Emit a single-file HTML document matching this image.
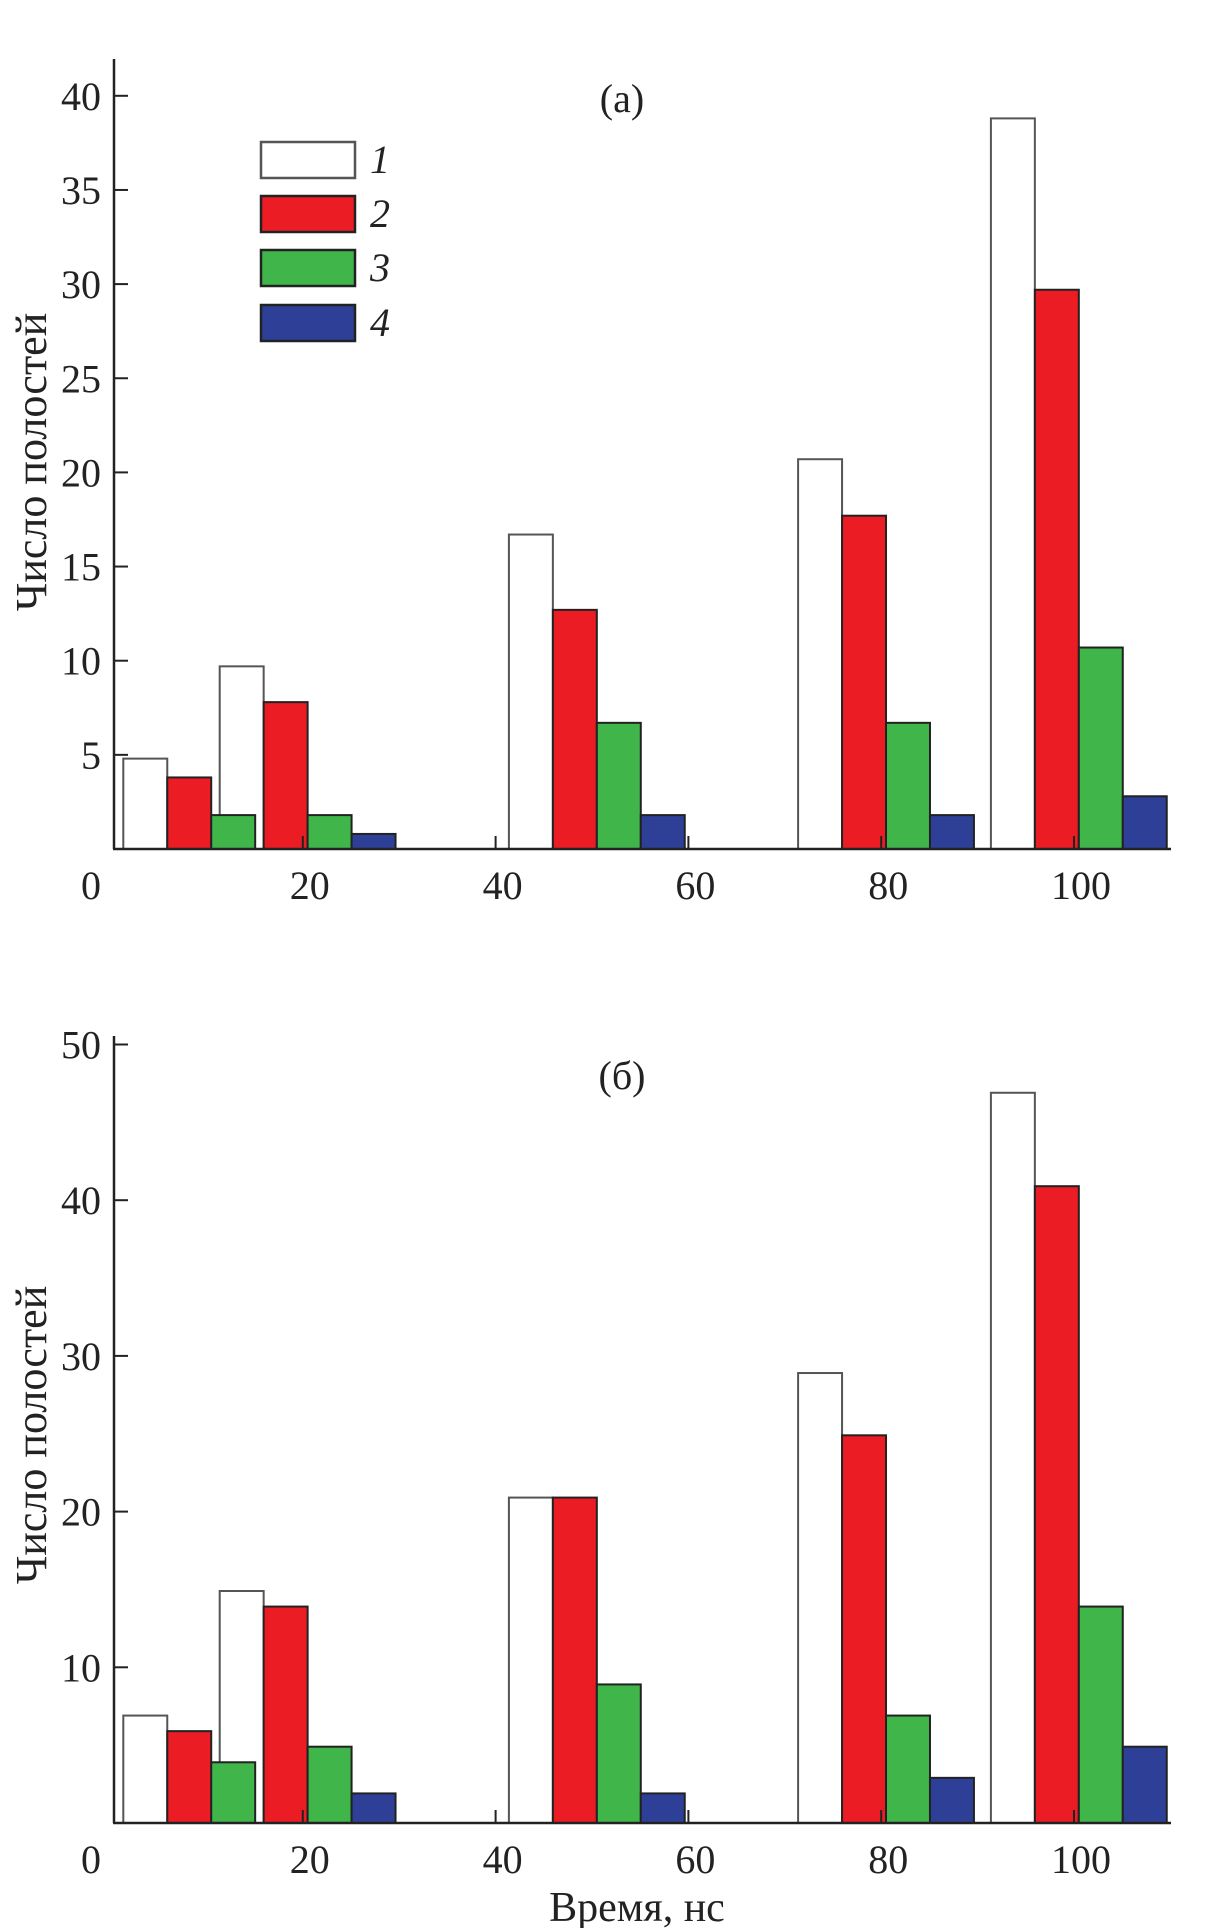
<!DOCTYPE html>
<html><head><meta charset="utf-8"><style>
html,body{margin:0;padding:0;background:#fff;}
svg{display:block;font-family:"Liberation Serif",serif;}
</style></head><body>
<svg id="chart" width="1232" height="1928" viewBox="0 0 1232 1928"></svg>
<script>
const groupTimes = [10, 20, 50, 80, 100];
const seriesNames = ["1", "2", "3", "4"];
const seriesColors = ["#ffffff", "#ec1c24", "#40b54a", "#2e3f98"];
const seriesStrokes = ["#555555", "#222222", "#222222", "#222222"];
const valsA1 = [4.8, 9.7, 16.7, 20.7, 38.8];
const valsA2 = [3.8, 7.8, 12.7, 17.7, 29.7];
const valsA3 = [1.8, 1.8, 6.7, 6.7, 10.7];
const valsA4 = [0, 0.8, 1.8, 1.8, 2.8];
const valsB1 = [6.9, 14.9, 20.9, 28.9, 46.9];
const valsB2 = [5.9, 13.9, 20.9, 24.9, 40.9];
const valsB3 = [3.9, 4.9, 8.9, 6.9, 13.9];
const valsB4 = [0, 1.9, 1.9, 2.9, 4.9];
const xTicks = [0, 20, 40, 60, 80, 100];
const yTicksA = [5, 10, 15, 20, 25, 30, 35, 40];
const yTicksB = [10, 20, 30, 40, 50];

const NS = "http://www.w3.org/2000/svg";
const svg = document.getElementById("chart");
function mk(tag, attrs, parent) {
  const e = document.createElementNS(NS, tag);
  for (const k in attrs) e.setAttribute(k, attrs[k]);
  (parent || svg).appendChild(e);
  return e;
}
const xScale = t => 110 + 9.64 * t;
const barW = 4.56;
const barShift = 0.5;

function panel(key, series, yTicks, y0, pxPerUnit, axisTop, title, titleY, labelY) {
  const g = mk("g", {});
  
  
  const yS = v => y0 - v * pxPerUnit;
  series.forEach((vals, s) => {
    vals.forEach((v, i) => {
      if (v <= 0) return;
      const t0 = groupTimes[i] - 2 * barW + s * barW + barShift;
      const x1 = xScale(t0), x2 = xScale(t0 + barW);
      const r = mk("rect", {x: x1, y: yS(v), width: x2 - x1, height: y0 - yS(v),
        fill: seriesColors[s], stroke: seriesStrokes[s], "stroke-width": 2}, g);
      
      
    });
  });
  const ya = mk("line", {x1: 114, y1: axisTop, x2: 114, y2: y0, stroke: "#222", "stroke-width": 2.5}, g);
  
  
  const xa = mk("line", {x1: 113, y1: y0, x2: 1171, y2: y0, stroke: "#222", "stroke-width": 2.5}, g);
  
  
  yTicks.forEach(v => {
    const tk = mk("line", {x1: 114, y1: yS(v), x2: 128, y2: yS(v), stroke: "#222", "stroke-width": 2}, g);
    
    
    const tl = mk("text", {x: 101, y: yS(v) + 14, "text-anchor": "end", "font-size": 40, fill: "#222"}, g);
    tl.textContent = v;
    
    
  });
  xTicks.forEach(t => {
    if (t > 0) {
      const tk = mk("line", {x1: xScale(t), y1: y0, x2: xScale(t), y2: y0 - 13, stroke: "#222", "stroke-width": 2}, g);
      
      
    }
    const tl = mk("text", {x: t === 0 ? 91 : xScale(t) + 7, y: y0 + 50, "text-anchor": "middle", "font-size": 40, fill: "#222"}, g);
    tl.textContent = t;
    
    
  });
  const tt = mk("text", {x: 622, y: titleY, "text-anchor": "middle", "font-size": 40, fill: "#222"}, g);
  tt.textContent = title;
  
  
  const yl = mk("text", {x: 0, y: 0, "text-anchor": "middle", "font-size": 44, fill: "#222",
    transform: "translate(46," + labelY + ") rotate(-90)"}, g);
  yl.textContent = "Число полостей";
  
  
}

panel("a", [valsA1, valsA2, valsA3, valsA4], yTicksA, 849, 18.83, 59, "(a)", 112, 462);
panel("b", [valsB1, valsB2, valsB3, valsB4], yTicksB, 1823, 15.57, 1036, "(б)", 1089, 1435);

const leg = mk("g", {});


const legY = [142, 196, 250, 305];
seriesNames.forEach((n, s) => {
  const r = mk("rect", {x: 261, y: legY[s], width: 94, height: 36, fill: seriesColors[s], stroke: seriesStrokes[s], "stroke-width": 2.5}, leg);
  
  
  const t = mk("text", {x: 370, y: legY[s] + 31, "font-size": 40, "font-style": "italic", fill: "#222"}, leg);
  t.textContent = n;
  
  
});

const xl = mk("text", {x: 637, y: 1921, "text-anchor": "middle", "font-size": 42, fill: "#222"});
xl.textContent = "Время, нс";


</script>
</body></html>
